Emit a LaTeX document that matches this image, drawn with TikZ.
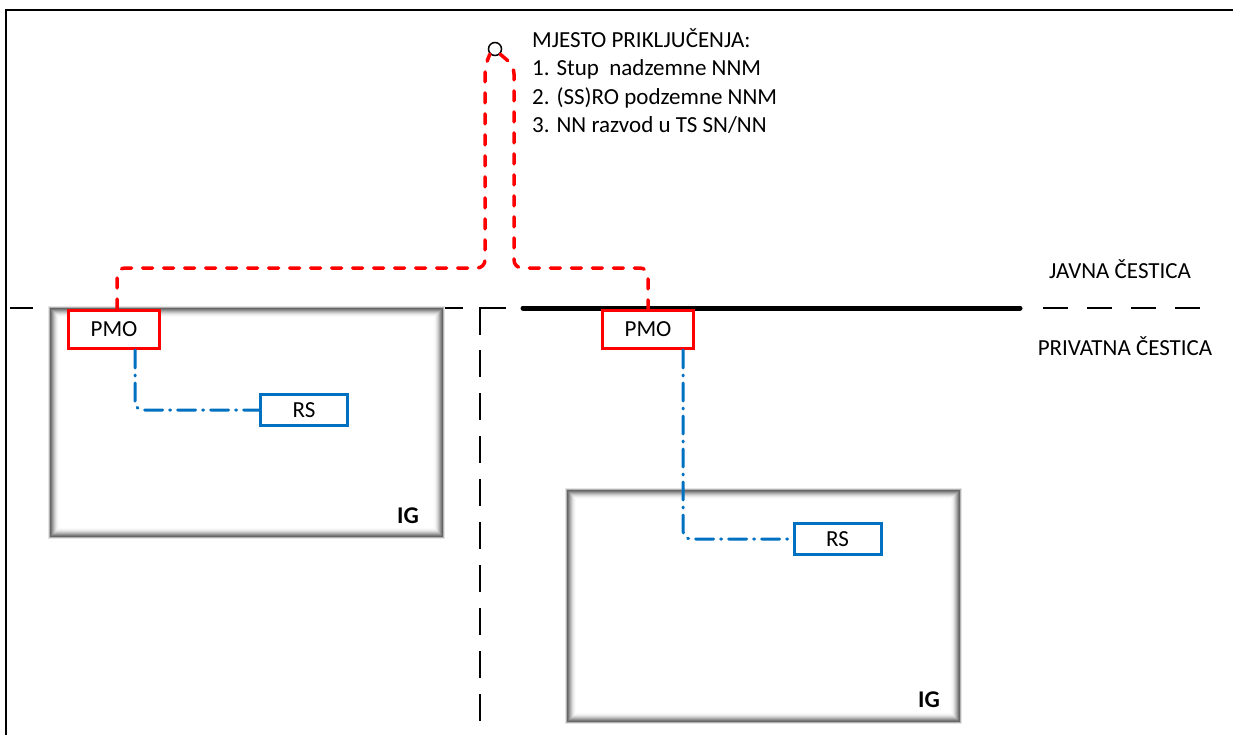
\documentclass[tikz,border=0pt]{standalone}
\usepackage{fontspec}
\setmainfont{Carlito}
\usepackage{tikz}

\definecolor{rsblue}{HTML}{0070C0}

% shaded frame of a building (x1,y1,x2,y2)
\newcommand{\igbox}[4]{%
  \fill[white] (#1,#2) rectangle (#3,#4);
  \foreach \i/\c in {-2/10,-1/30,0/60,1/52,2/42,3/32,4/23,5/15,6/9,7/4,8/2} {
      \draw[black!\c, line width=1pt] (#1+\i+0.5,#2+\i+0.5) rectangle (#3-\i-0.5,#4-\i-0.5);
    }}

\begin{document}
\begin{tikzpicture}[x=1pt,y=-1pt,
    lbl/.style={font=\fontsize{23}{28.5}\selectfont, inner sep=0pt},
    pmo/.style={draw=red, line width=3pt, fill=white, minimum width=91pt, minimum height=38pt, inner sep=0pt, font=\fontsize{23}{26}\selectfont},
    rs/.style={draw=rsblue, line width=3pt, fill=white, minimum width=87pt, minimum height=31pt, inner sep=0pt, font=\fontsize{23}{26}\selectfont},
    feed/.style={red, line width=3.5pt, line cap=round, dash pattern=on 10pt off 11pt, rounded corners=8pt},
    inst/.style={rsblue, line width=3pt, dash pattern=on 18pt off 7pt on 1pt off 7pt, line cap=round, rounded corners=8pt},
    border/.style={line width=1.5pt, dash pattern=on 25pt off 18pt}]
        \useasboundingbox (0,0) rectangle (1233,735);
        \draw[line width=2pt] (6,735) -- (6,10) -- (1233,10);
        % boundary of the plots
        \draw[border] (463,308) -- (10,308);
        \draw[line width=1.5pt] (506,308) -- (480,308) -- (480,335);
        \draw[border, dash pattern=on 27pt off 16pt] (480,350) -- (480,735);
        \draw[border, dash pattern=on 25pt off 19pt] (1043,308) -- (1200,308);
        \igbox{50}{308}{443}{537}
        \igbox{567}{490}{960}{722}
        \draw[line width=5pt, line cap=round] (523,308) -- (1020,308);
        % nodes
        \node[pmo] (pmoL) at (114,329.5) {PMO};
        \node[pmo] (pmoR) at (648,329.5) {PMO};
        \node[rs] (rsL) at (304,410) {RS};
        \node[rs] (rsR) at (837.5,539) {RS};
        \node[lbl, font=\fontsize{24}{28.5}\selectfont\bfseries, anchor=base east] (igL) at (419,523) {IG};
        \node[lbl, font=\fontsize{24}{28.5}\selectfont\bfseries, anchor=base east] (igR) at (940,707) {IG};
        \node[circle, draw, line width=1.5pt, minimum size=13pt, inner sep=0pt] (mp) at (495,49) {};
        \node[lbl, align=left, anchor=north west] (mjesto) at (532,28)
          {MJESTO PRIKLJUČENJA:\\1. Stup\ \ nadzemne NNM\\2. (SS)RO podzemne NNM\\3. NN razvod u TS SN/NN};
        \node[lbl, anchor=base] (javna) at (1120,278) {JAVNA ČESTICA};
        \node[lbl, anchor=base] (privatna) at (1125,355) {PRIVATNA ČESTICA};
        % connections
        \draw[feed] ([xshift=3pt]pmoL.north) |- (485,268) -- (485,66) -- (mp.south west);
        \draw[feed] (mp.south east) -- (514,66) -- (514,268) -| (pmoR.north);
        \draw[inst] ([xshift=21pt]pmoL.south) |- (rsL.west);
        \draw[inst] ([xshift=35pt]pmoR.south) |- (rsR.west);
      \end{tikzpicture}
\end{document}
